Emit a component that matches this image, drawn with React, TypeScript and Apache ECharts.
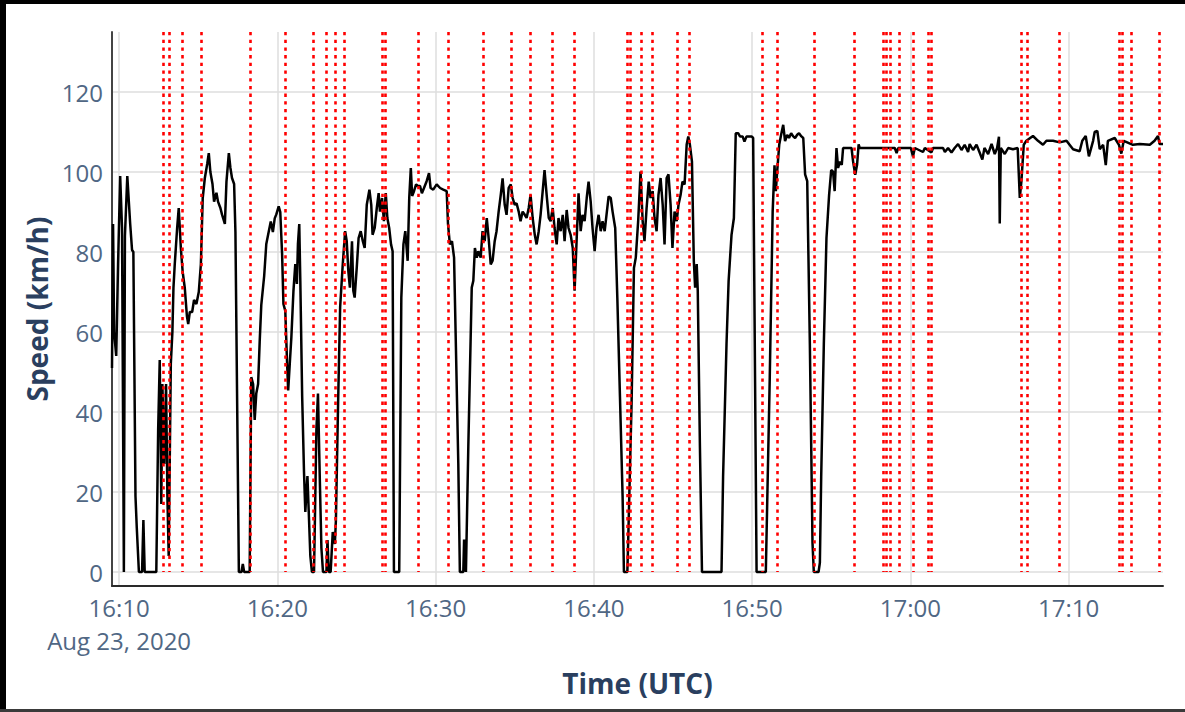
import React, { useEffect, useRef } from "react";
import * as echarts from "echarts";

const DATE_LABEL = "Aug 23, 2020";

// [time (UTC, 2020-08-23), speed km/h]
const SPEED_SAMPLES: [string, number][] = [
  ["16:09:33", 51], ["16:09:37", 87], ["16:09:41", 60], ["16:09:49", 54], ["16:09:56", 77],
  ["16:10:04", 99], ["16:10:11", 86], ["16:10:18", 0], ["16:10:22", 84], ["16:10:31", 99],
  ["16:10:42", 87], ["16:10:49", 80.5], ["16:10:54", 80], ["16:11:02", 19], ["16:11:07", 11],
  ["16:11:15", 0], ["16:11:27", 0], ["16:11:32", 13], ["16:11:37", 0], ["16:12:21", 0],
  ["16:12:28", 35.5], ["16:12:34", 53], ["16:12:40", 17], ["16:12:44", 47], ["16:12:51", 27],
  ["16:12:58", 47], ["16:13:03", 19], ["16:13:08", 4], ["16:13:16", 52], ["16:13:22", 60],
  ["16:13:26", 71], ["16:13:31", 77], ["16:13:40", 86], ["16:13:46", 91], ["16:13:54", 81],
  ["16:14:01", 75], ["16:14:09", 71], ["16:14:17", 64], ["16:14:22", 62], ["16:14:28", 65],
  ["16:14:37", 65], ["16:14:44", 68], ["16:14:53", 67], ["16:15:02", 70], ["16:15:10", 77],
  ["16:15:17", 93.5], ["16:15:25", 98.5], ["16:15:34", 102], ["16:15:40", 104.7], ["16:15:46", 100],
  ["16:15:54", 97], ["16:16:00", 92.6], ["16:16:09", 94.8], ["16:16:15", 92.6], ["16:16:24", 91],
  ["16:16:30", 89.4], ["16:16:41", 87], ["16:16:47", 97.6], ["16:16:56", 104.7], ["16:17:02", 101],
  ["16:17:08", 98.5], ["16:17:16", 97], ["16:17:21", 85], ["16:17:34", 0], ["16:17:44", 0],
  ["16:17:49", 2], ["16:17:54", 0], ["16:18:15", 0], ["16:18:21", 48.7], ["16:18:28", 47],
  ["16:18:34", 38], ["16:18:40", 44.6], ["16:18:47", 47], ["16:18:53", 57.6], ["16:18:59", 66.7],
  ["16:19:10", 74], ["16:19:18", 82], ["16:19:27", 85], ["16:19:35", 87.6], ["16:19:43", 85],
  ["16:19:50", 88.4], ["16:19:56", 89.4], ["16:20:05", 91.4], ["16:20:11", 90], ["16:20:18", 79.4],
  ["16:20:23", 67], ["16:20:30", 65.3], ["16:20:37", 52], ["16:20:41", 45.4], ["16:20:47", 52],
  ["16:20:53", 58.6], ["16:21:01", 70.3], ["16:21:08", 77], ["16:21:14", 72], ["16:21:18", 82],
  ["16:21:23", 87], ["16:21:27", 72.8], ["16:21:34", 44], ["16:21:41", 25], ["16:21:46", 15],
  ["16:21:54", 24], ["16:21:59", 15], ["16:22:05", 4], ["16:22:11", 0], ["16:22:19", 0],
  ["16:22:28", 35.5], ["16:22:34", 44.6], ["16:22:41", 23], ["16:22:47", 6], ["16:22:53", 0],
  ["16:23:06", 0], ["16:23:10", 8], ["16:23:15", 0], ["16:23:22", 0], ["16:23:30", 10],
  ["16:23:38", 7], ["16:23:42", 13], ["16:23:50", 41.4], ["16:23:58", 66.2], ["16:24:08", 77],
  ["16:24:17", 85.2], ["16:24:23", 82.7], ["16:24:29", 75.3], ["16:24:35", 71.1], ["16:24:43", 82.7],
  ["16:24:48", 70.3], ["16:24:53", 68.6], ["16:25:01", 76.1], ["16:25:08", 83.5], ["16:25:16", 85.2],
  ["16:25:24", 82.7], ["16:25:31", 81], ["16:25:39", 91.8], ["16:25:49", 95.6], ["16:25:56", 91.8],
  ["16:26:01", 84.3], ["16:26:09", 86], ["16:26:17", 91], ["16:26:24", 94.7], ["16:26:29", 90.1],
  ["16:26:37", 93.5], ["16:26:44", 87.7], ["16:26:51", 94.7], ["16:26:57", 88.5], ["16:27:04", 86],
  ["16:27:11", 81.9], ["16:27:17", 80.2], ["16:27:22", 0], ["16:27:42", 0], ["16:27:50", 68.6],
  ["16:27:58", 81.9], ["16:28:05", 85.2], ["16:28:14", 77.8], ["16:28:20", 93.5], ["16:28:26", 101],
  ["16:28:31", 94], ["16:28:38", 95.2], ["16:28:46", 96.9], ["16:28:53", 96.5], ["16:29:01", 96.5],
  ["16:29:08", 94.7], ["16:29:16", 96], ["16:29:26", 97.7], ["16:29:35", 99.7], ["16:29:41", 96],
  ["16:29:51", 95.6], ["16:30:04", 96.9], ["16:30:17", 96], ["16:30:29", 95.6], ["16:30:42", 95.2],
  ["16:30:47", 87], ["16:30:54", 81.9], ["16:31:02", 82.7], ["16:31:10", 78.6], ["16:31:17", 56.2],
  ["16:31:26", 27.2], ["16:31:32", 0], ["16:31:45", 0], ["16:31:48", 8.1], ["16:31:55", 0],
  ["16:32:04", 31.3], ["16:32:17", 71.1], ["16:32:23", 72.8], ["16:32:29", 81], ["16:32:36", 78.6],
  ["16:32:42", 80.2], ["16:32:51", 78.6], ["16:32:58", 85.2], ["16:33:06", 82.7], ["16:33:14", 88.5],
  ["16:33:21", 83.5], ["16:33:29", 76.9], ["16:33:36", 77.8], ["16:33:44", 82.7], ["16:33:51", 85.2],
  ["16:33:59", 90.1], ["16:34:07", 94.3], ["16:34:14", 98.4], ["16:34:22", 91.8], ["16:34:29", 89.3],
  ["16:34:37", 96], ["16:34:45", 96.9], ["16:34:52", 93.5], ["16:35:00", 91.8], ["16:35:07", 92.2],
  ["16:35:15", 90.1], ["16:35:22", 87.7], ["16:35:30", 90.1], ["16:35:38", 89.3], ["16:35:45", 88.5],
  ["16:35:53", 91], ["16:36:00", 94.3], ["16:36:08", 88.5], ["16:36:16", 84.3], ["16:36:23", 81.9],
  ["16:36:31", 85.2], ["16:36:38", 89.3], ["16:36:46", 95.2], ["16:36:53", 100.5], ["16:37:01", 94.3],
  ["16:37:09", 88.5], ["16:37:16", 87.7], ["16:37:24", 91], ["16:37:31", 86], ["16:37:39", 81.9],
  ["16:37:46", 88.5], ["16:37:54", 85.2], ["16:38:02", 89.3], ["16:38:09", 82.7], ["16:38:17", 90.5],
  ["16:38:24", 86], ["16:38:32", 84.3], ["16:38:40", 81], ["16:38:47", 70.3], ["16:38:55", 83.5],
  ["16:39:02", 94.7], ["16:39:10", 85.2], ["16:39:17", 89.3], ["16:39:25", 87.7], ["16:39:33", 93.5],
  ["16:39:40", 97.6], ["16:39:48", 92.6], ["16:39:55", 86], ["16:40:03", 80.2], ["16:40:10", 86],
  ["16:40:18", 89.3], ["16:40:26", 85.2], ["16:40:33", 87.7], ["16:40:41", 85.2], ["16:40:48", 89.3],
  ["16:40:56", 93.9], ["16:41:04", 93.5], ["16:41:11", 90.1], ["16:41:21", 86], ["16:41:29", 68.6],
  ["16:41:39", 43.8], ["16:41:49", 19], ["16:41:54", 0], ["16:42:07", 0], ["16:42:10", 7.3],
  ["16:42:23", 42], ["16:42:32", 76], ["16:42:39", 78.6], ["16:42:48", 87.7], ["16:42:57", 100.1],
  ["16:43:05", 87.7], ["16:43:12", 82.7], ["16:43:20", 91], ["16:43:28", 97.6], ["16:43:35", 93.5],
  ["16:43:43", 95.2], ["16:43:50", 88.5], ["16:43:58", 85.2], ["16:44:05", 94.3], ["16:44:13", 98.5],
  ["16:44:21", 91.8], ["16:44:28", 81.9], ["16:44:36", 98.5], ["16:44:43", 99.4], ["16:44:51", 91.8],
  ["16:44:58", 81], ["16:45:06", 90.1], ["16:45:14", 87.7], ["16:45:21", 91.8], ["16:45:29", 94.3],
  ["16:45:36", 97.6], ["16:45:44", 96.9], ["16:45:52", 106.9], ["16:45:58", 108.9], ["16:46:04", 106.9],
  ["16:46:12", 102.6], ["16:46:19", 77.8], ["16:46:24", 71.1], ["16:46:30", 77], ["16:46:34", 70.3],
  ["16:46:42", 32.1], ["16:46:50", 0], ["16:48:04", 0], ["16:48:10", 23.8], ["16:48:23", 57],
  ["16:48:31", 72.8], ["16:48:42", 84.3], ["16:48:51", 88.5], ["16:48:58", 109.7], ["16:49:07", 109.7],
  ["16:49:14", 108.9], ["16:49:24", 108.9], ["16:49:31", 107.6], ["16:49:39", 108.9], ["16:49:58", 108.9],
  ["16:50:04", 108.5], ["16:50:17", 0], ["16:50:52", 0], ["16:51:07", 48.7], ["16:51:18", 90.1],
  ["16:51:25", 101.7], ["16:51:30", 95.2], ["16:51:35", 100.1], ["16:51:43", 106.9], ["16:51:50", 109.3],
  ["16:51:58", 111.8], ["16:52:05", 107.7], ["16:52:13", 109.3], ["16:52:20", 108.5], ["16:52:28", 109.7],
  ["16:52:36", 108.9], ["16:52:43", 108.5], ["16:52:51", 109.3], ["16:52:58", 109.7], ["16:53:07", 108.9],
  ["16:53:14", 108.5], ["16:53:21", 99.4], ["16:53:29", 97.7], ["16:53:39", 57], ["16:53:49", 7.3],
  ["16:53:54", 0], ["16:54:12", 0], ["16:54:17", 2.3], ["16:54:22", 23.8], ["16:54:32", 57],
  ["16:54:42", 83.5], ["16:54:52", 94.3], ["16:55:00", 100.5], ["16:55:07", 100.1], ["16:55:13", 95.2],
  ["16:55:20", 106], ["16:55:26", 101], ["16:55:33", 102.6], ["16:55:40", 101.8], ["16:55:45", 106],
  ["16:55:58", 106], ["16:56:17", 106], ["16:56:23", 102.6], ["16:56:31", 99.3], ["16:56:38", 101.8],
  ["16:56:44", 106.9], ["16:56:48", 106], ["16:58:04", 106], ["16:59:01", 106], ["16:59:08", 104.7],
  ["16:59:14", 106], ["17:00:02", 106], ["17:00:10", 103.9], ["17:00:17", 106], ["17:00:48", 105],
  ["17:00:55", 106], ["17:01:20", 104.9], ["17:01:26", 106], ["17:02:04", 106], ["17:02:11", 105],
  ["17:02:23", 106], ["17:02:36", 104.9], ["17:02:48", 106], ["17:03:01", 107], ["17:03:14", 105.5],
  ["17:03:26", 106.8], ["17:03:39", 105], ["17:03:45", 107], ["17:03:58", 105.5], ["17:04:11", 106.8],
  ["17:04:22", 105], ["17:04:33", 103.1], ["17:04:41", 106], ["17:04:55", 104.5], ["17:05:08", 107],
  ["17:05:20", 104.5], ["17:05:29", 106], ["17:05:36", 108.8], ["17:05:39", 87.1], ["17:05:43", 106],
  ["17:05:58", 104.5], ["17:06:11", 106], ["17:06:29", 105.7], ["17:06:47", 106], ["17:06:55", 93.5],
  ["17:07:01", 97.6], ["17:07:10", 106.8], ["17:07:20", 107.8], ["17:07:45", 109], ["17:08:04", 107.8],
  ["17:08:23", 106.8], ["17:08:36", 107.8], ["17:09:01", 107.8], ["17:09:26", 107.4], ["17:09:52", 107.8],
  ["17:10:17", 105.7], ["17:10:42", 105.2], ["17:10:52", 107.8], ["17:11:05", 109], ["17:11:17", 103.9],
  ["17:11:33", 107.8], ["17:11:39", 110], ["17:11:49", 110.3], ["17:11:58", 105.7], ["17:12:11", 106.8],
  ["17:12:21", 101.7], ["17:12:29", 107.8], ["17:12:55", 108.5], ["17:13:11", 106.8], ["17:13:20", 104.6],
  ["17:13:29", 107.8], ["17:14:04", 106.8], ["17:14:30", 107], ["17:15:08", 106.8], ["17:15:26", 107.8],
  ["17:15:39", 109], ["17:15:45", 107], ["17:15:58", 107],
];

// Event markers (red dotted verticals), UTC times
const EVENT_TIMES: string[] = [
  "16:12:48", "16:13:11", "16:14:00", "16:15:11", "16:18:18", "16:20:30", "16:22:16",
  "16:23:06", "16:23:39", "16:24:12", "16:26:39", "16:26:50", "16:28:54", "16:30:48",
  "16:33:01", "16:34:47", "16:35:58", "16:37:21", "16:38:46", "16:42:08", "16:42:17",
  "16:42:59", "16:43:40", "16:45:18", "16:46:02", "16:50:40", "16:51:37", "16:53:55",
  "16:56:26", "16:58:16", "16:58:30", "16:58:42", "16:59:19", "17:00:10", "17:01:07",
  "17:01:18", "17:07:02", "17:07:25", "17:09:26", "17:13:12", "17:13:23", "17:13:58",
  "17:15:42",
];

const Y_RANGE: [number, number] = [-3.5, 135];
const EVENT_SPAN: [number, number] = [0, 135];
const X_TICK_MINUTES = 10;
const Y_TICK_STEP = 20;

// minutes since 00:00 UTC
function toMinutes(t: string): number {
  const [h, m, s] = t.split(":").map(Number);
  return h * 60 + m + s / 60;
}

const pad = (n: number) => String(n).padStart(2, "0");

export default function App() {
  const ref = useRef<HTMLDivElement>(null);

  useEffect(() => {
    const chart = echarts.init(ref.current!, null, { renderer: "svg" });
    const speedData = SPEED_SAMPLES.map(([t, v]) => [toMinutes(t), v]);
    const xMin = speedData[0][0] as number;
    const xMax = speedData[speedData.length - 1][0] as number;
    const firstTick = Math.ceil(xMin / X_TICK_MINUTES) * X_TICK_MINUTES;

    const tickFont = { fontFamily: "'Open Sans', sans-serif", color: "#506784", fontSize: 24 };
    const titleFont = {
      fontFamily: "'Open Sans', sans-serif",
      color: "#2a3f5f",
      fontSize: 28,
      fontWeight: "bold" as const,
    };
    const gridLine = { color: "#dedede", width: 1.5 };

    chart.setOption({
      animation: false,
      backgroundColor: "#ffffff",
      textStyle: { fontFamily: "'Open Sans', sans-serif" },
      grid: { left: 112, right: 22, top: 32, bottom: 126, containLabel: false },
      graphic: [
        { type: "rect", shape: { x: 0, y: 0, width: 1185, height: 4 }, style: { fill: "#000" }, silent: true },
        { type: "rect", shape: { x: 0, y: 0, width: 6, height: 712 }, style: { fill: "#000" }, silent: true },
        { type: "rect", shape: { x: 0, y: 709, width: 1185, height: 3 }, style: { fill: "#3a3a3a" }, silent: true },
      ],
      xAxis: {
        type: "value",
        min: xMin,
        max: xMax,
        splitNumber: 7,
        minInterval: X_TICK_MINUTES,
        maxInterval: X_TICK_MINUTES,
        axisLine: { show: true, onZero: false, lineStyle: { color: "#2a2a2a", width: 2 } },
        axisTick: { show: false },
        axisLabel: {
          ...tickFont,
          lineHeight: 33,
          margin: 5,
          showMinLabel: false,
          showMaxLabel: false,
          hideOverlap: false,
          formatter: (val: number) => {
            const total = Math.round(val);
            const s = `${pad(Math.floor(total / 60))}:${pad(total % 60)}`;
            return Math.abs(val - firstTick) < 1e-6 ? `${s}\n${DATE_LABEL}` : s;
          },
        },
        splitLine: { show: true, showMinLine: false, showMaxLine: false, lineStyle: gridLine },
        name: "Time (UTC)",
        nameLocation: "middle",
        nameGap: 83,
        nameTextStyle: titleFont,
      },
      yAxis: {
        type: "value",
        min: Y_RANGE[0],
        max: Y_RANGE[1],
        splitNumber: 7,
        minInterval: Y_TICK_STEP,
        maxInterval: Y_TICK_STEP,
        axisLine: { show: true, lineStyle: { color: "#444", width: 2 } },
        axisTick: { show: false },
        axisLabel: { ...tickFont, margin: 9, showMinLabel: false, showMaxLabel: false },
        splitLine: { show: true, showMinLine: false, showMaxLine: false, lineStyle: gridLine },
        name: "Speed (km/h)",
        nameLocation: "middle",
        nameGap: 59,
        nameTextStyle: titleFont,
      },
      series: [
        {
          type: "line",
          name: "Speed",
          data: speedData,
          showSymbol: false,
          symbol: "none",
          silent: true,
          z: 2,
          lineStyle: { color: "#000000", width: 2.5 },
          itemStyle: { color: "#000000" },
          markLine: {
            silent: true,
            symbol: ["none", "none"],
            label: { show: false },
            emphasis: { disabled: true },
            lineStyle: { color: "#ff0000", width: 2.6, type: [3.3, 4.4], opacity: 1 },
            data: EVENT_TIMES.map((t) => [
              { coord: [toMinutes(t), EVENT_SPAN[1]] },
              { coord: [toMinutes(t), EVENT_SPAN[0]] },
            ]),
          },
        },
      ],
    });
    return () => chart.dispose();
  }, []);

  return (
    <div style={{ position: "absolute", left: 0, top: 0, width: 1185, height: 712, background: "#fff" }}>
      <div ref={ref} style={{ width: 1185, height: 712 }} />
    </div>
  );
}
